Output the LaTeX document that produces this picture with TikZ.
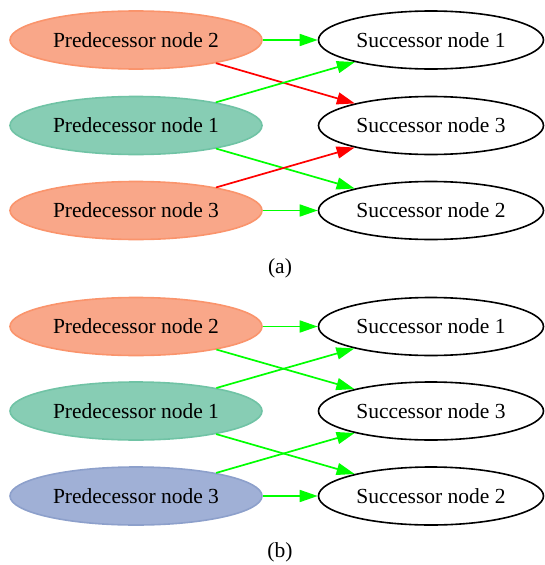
\documentclass[tikz,border=0pt]{standalone}
\usepackage{fontspec}
\setmainfont{Liberation Serif}
\usetikzlibrary{arrows.meta,shapes.geometric}
\definecolor{orfill}{RGB}{249,167,137}
\definecolor{ordraw}{RGB}{250,148,108}
\definecolor{tlfill}{RGB}{135,205,180}
\definecolor{tldraw}{RGB}{112,195,165}
\definecolor{blfill}{RGB}{160,176,214}
\definecolor{bldraw}{RGB}{141,160,203}
\definecolor{eggreen}{RGB}{0,255,0}
\definecolor{egred}{RGB}{255,0,0}
\tikzset{
  pred/.style={ellipse, minimum width=252pt, minimum height=58pt, inner sep=0pt, line width=1.6pt, font=\fontsize{21.5}{24}\selectfont},
  succ/.style={ellipse, draw=black, minimum width=225pt, minimum height=58pt, inner sep=0pt, line width=1.6pt, font=\fontsize{21.5}{24}\selectfont},
  orange node/.style={pred, fill=orfill, draw=ordraw},
  teal node/.style={pred, fill=tlfill, draw=tldraw},
  blue node/.style={pred, fill=blfill, draw=bldraw},
  edge/.style={line width=1.7pt, -{Triangle[length=18pt,width=12pt]}},
  gedge/.style={edge, draw=eggreen, fill=eggreen},
  redge/.style={edge, draw=egred, fill=egred},
  caption/.style={font=\fontsize{21.5}{24}\selectfont, inner sep=0pt}
}
\begin{document}
\begin{tikzpicture}[x=1pt,y=-1pt]
\useasboundingbox (0,0) rectangle (545,565);
% panel (a)
\node[orange node] (ap2) at (136,40) {Predecessor node 2};
\node[teal node]   (ap1) at (136,125.5) {Predecessor node 1};
\node[orange node] (ap3) at (136,210.5) {Predecessor node 3};
\node[succ] (as1) at (431,40) {Successor node 1};
\node[succ] (as3) at (431,125.5) {Successor node 3};
\node[succ] (as2) at (431,210.5) {Successor node 2};
\draw[gedge] (ap2) -- (as1);
\draw[redge] (ap2) -- (as3);
\draw[gedge] (ap1) -- (as1);
\draw[gedge] (ap1) -- (as2);
\draw[redge] (ap3) -- (as3);
\draw[gedge] (ap3) -- (as2);
\node[caption] (capa) at (280,268) {(a)};
% panel (b)
\node[orange node] (bp2) at (136,326.5) {Predecessor node 2};
\node[teal node]   (bp1) at (136,411) {Predecessor node 1};
\node[blue node]   (bp3) at (136,496) {Predecessor node 3};
\node[succ] (bs1) at (431,326.5) {Successor node 1};
\node[succ] (bs3) at (431,411) {Successor node 3};
\node[succ] (bs2) at (431,496) {Successor node 2};
\draw[gedge] (bp2) -- (bs1);
\draw[gedge] (bp2) -- (bs3);
\draw[gedge] (bp1) -- (bs1);
\draw[gedge] (bp1) -- (bs2);
\draw[gedge] (bp3) -- (bs3);
\draw[gedge] (bp3) -- (bs2);
\node[caption] (capb) at (280,552) {(b)};
\end{tikzpicture}
\end{document}
